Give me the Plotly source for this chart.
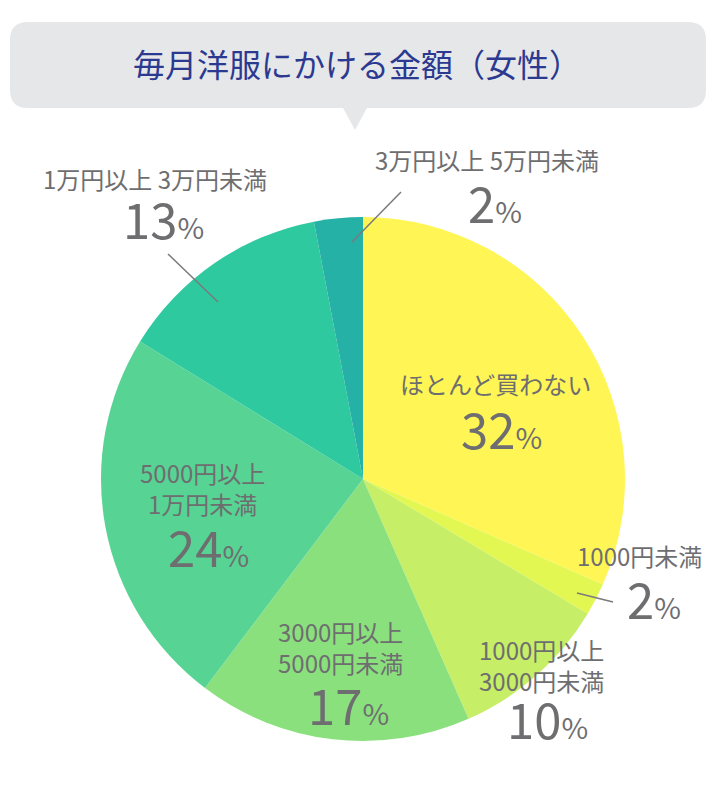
import plotly.graph_objects as go

W, H = 719, 800
OFF = 8  # browser body margin, everything is placed in page pixels

categories = ["ほとんど買わない", "1000円未満", "1000円以上3000円未満", "3000円以上5000円未満",
              "5000円以上1万円未満", "1万円以上3万円未満", "3万円以上5万円未満"]
values = [31.6, 2.0, 9.8, 16.9, 23.5, 13.2, 3.0]
shown_pct = [32, 2, 10, 17, 24, 13, 2]
label_lines = [["ほとんど買わない"], ["1000円未満"], ["1000円以上", "3000円未満"],
               ["3000円以上", "5000円未満"], ["5000円以上", "1万円未満"],
               ["1万円以上 3万円未満"], ["3万円以上 5万円未満"]]
colors = ["#FFF655", "#E3F753", "#C6EE66", "#8BE07E", "#57D394", "#2FC9A0", "#25B1A6"]

# layout in page pixels
cx, cy, r = 363, 479, 262
label_pos = [(495, 383), (639, 555), (541, 650), (340, 632), (202, 473), (155, 178), (487, 160)]
pct_pos = [(501, 427), (654, 597), (547, 717), (348, 703), (209, 545), (163, 218), (495, 202)]
lead = [None, ((577, 593), (613, 602)), None, None, None,
        ((168, 254), (218, 302)), ((352, 242), (401, 192))]

TXT = "#6e6e70"
FONT = "Noto Sans CJK JP"


def px(x):
    return (x - OFF) / W


def py(y):
    return 1 - (y - OFF) / H


fig = go.Figure(go.Pie(
    labels=categories, values=values, sort=False, direction="clockwise", rotation=0,
    marker=dict(colors=colors, line=dict(width=0)), textinfo="none", hoverinfo="label+value",
    showlegend=False,
    domain=dict(x=[px(cx - r), px(cx + r)], y=[py(cy + r), py(cy - r)]),
))

ann = []
for lines, pct, (lx, ly), (qx, qy) in zip(label_lines, shown_pct, label_pos, pct_pos):
    mid = ly + (len(lines) - 1) * 15
    ann.append(dict(x=px(lx), y=py(mid), xref="paper", yref="paper", text="<br>".join(lines),
                    showarrow=False, font=dict(family=FONT, size=24, color=TXT),
                    xanchor="center", yanchor="middle"))
    ann.append(dict(x=px(qx), y=py(qy), xref="paper", yref="paper",
                    text=f"{pct}<span style='font-size:29px'>%</span>",
                    showarrow=False, font=dict(family=FONT, size=49, color=TXT),
                    xanchor="center", yanchor="middle"))

ann.append(dict(x=px(357), y=py(63), xref="paper", yref="paper", text="毎月洋服にかける金額（女性）",
                showarrow=False, font=dict(family=FONT, size=32, color="#2B3990"),
                xanchor="center", yanchor="middle"))

# speech bubble behind title
x0, x1, y0, y1, rc = 10, 706, 22, 108, 18
tx, tw, tb = 355, 12, 130
pts = [f"M{px(x0 + rc)},{py(y0)}", f"L{px(x1 - rc)},{py(y0)}",
       f"Q{px(x1)},{py(y0)} {px(x1)},{py(y0 + rc)}", f"L{px(x1)},{py(y1 - rc)}",
       f"Q{px(x1)},{py(y1)} {px(x1 - rc)},{py(y1)}", f"L{px(tx + tw)},{py(y1)}",
       f"L{px(tx)},{py(tb)}", f"L{px(tx - tw)},{py(y1)}", f"L{px(x0 + rc)},{py(y1)}",
       f"Q{px(x0)},{py(y1)} {px(x0)},{py(y1 - rc)}", f"L{px(x0)},{py(y0 + rc)}",
       f"Q{px(x0)},{py(y0)} {px(x0 + rc)},{py(y0)}", "Z"]
shapes = [dict(type="path", xref="paper", yref="paper", path=" ".join(pts),
               fillcolor="#E6E7E9", line=dict(width=0), layer="below")]

for seg in lead:
    if seg:
        (ax, ay), (bx, by) = seg
        shapes.append(dict(type="line", xref="paper", yref="paper",
                           x0=px(ax), y0=py(ay), x1=px(bx), y1=py(by),
                           line=dict(color="#7a7a7c", width=1.5), layer="above"))

fig.update_layout(width=W, height=H, margin=dict(l=0, r=0, t=0, b=0),
                  paper_bgcolor="white", plot_bgcolor="white",
                  annotations=ann, shapes=shapes, font=dict(family=FONT))

fig.write_html("out.html")
